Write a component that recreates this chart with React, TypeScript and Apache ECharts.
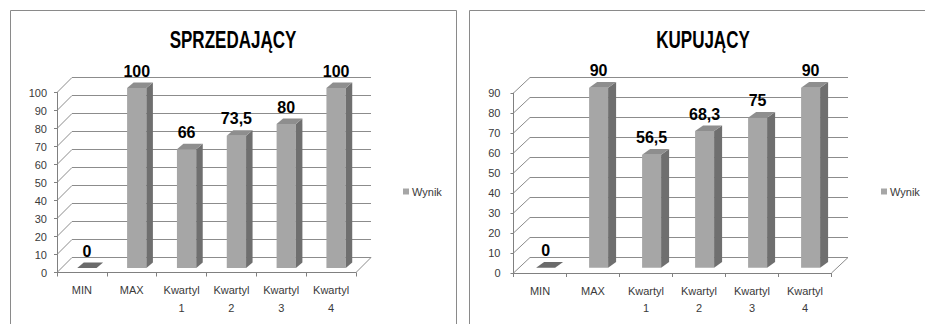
import React, { useEffect, useRef } from "react";
import * as echarts from "echarts";

// Category names (second line of the quartile labels on its own row)
const categories = ["MIN", "MAX", "Kwartyl\n1", "Kwartyl\n2", "Kwartyl\n3", "Kwartyl\n4"];

// Scores per category
const sellerValues = [0, 100, 66, 73.5, 80, 100];
const buyerValues = [0, 90, 56.5, 68.3, 75, 90];

// Value-axis ticks
const sellerTicks = [0, 10, 20, 30, 40, 50, 60, 70, 80, 90, 100];
const buyerTicks = [0, 10, 20, 30, 40, 50, 60, 70, 80, 90];

const sellerTitle = "SPRZEDAJĄCY";
const buyerTitle = "KUPUJĄCY";
const seriesName = "Wynik";

const font = "'Liberation Sans', Arial, sans-serif";
const gridColor = "#8c8c8c";
const axisColor = "#808080";
const textColor = "#3a3a3a";
const frontColor = "#a6a6a6";
const sideColor = "#6f6f6f";
const topColor = "#8e8e8e";
const flatColor = "#6b6b6b";

type Panel = {
  frontLeft: number;
  frontTop: number;
  width: number;
  height: number;
  depth: [number, number];
  barShift: [number, number];
  barDepth: [number, number];
  barWidth: number;
  yLabelMargin: number;
  legendLeft: number;
  titleX: number;
  frame: [number, number, number, number];
};

const sellerPanel: Panel = {
  frontLeft: 57,
  frontTop: 92.5,
  width: 299,
  height: 180,
  depth: [15, -15],
  barShift: [5, -4.5],
  barDepth: [6.5, -5.5],
  barWidth: 19.3,
  yLabelMargin: 10,
  legendLeft: 403,
  titleX: 233,
  frame: [10.5, 10.5, 446, 330],
};

const buyerPanel: Panel = {
  frontLeft: 513.5,
  frontTop: 93,
  width: 318,
  height: 180,
  depth: [16.5, -15.5],
  barShift: [5.6, -5.3],
  barDepth: [8, -5.6],
  barWidth: 19,
  yLabelMargin: 13,
  legendLeft: 881,
  titleX: 703,
  frame: [469.5, 10.5, 470, 330],
};

function formatValue(v: number): string {
  return String(v).replace(".", ",");
}

function buildPanel(k: number, p: Panel, values: number[], ticks: number[]) {
  const g = k * 3;
  const max = ticks[ticks.length - 1];

  const grid = [
    { left: p.frontLeft, top: p.frontTop, width: p.width, height: p.height },
    {
      left: p.frontLeft + p.barShift[0],
      top: p.frontTop + p.barShift[1],
      width: p.width,
      height: p.height,
    },
    {
      left: p.frontLeft + p.depth[0],
      top: p.frontTop + p.depth[1],
      width: p.width,
      height: p.height,
    },
  ];

  const xAxis = [
    {
      gridIndex: g,
      type: "category",
      data: categories,
      axisLine: { show: true, lineStyle: { color: axisColor } },
      axisTick: { show: true, length: 4, lineStyle: { color: axisColor } },
      axisLabel: {
        interval: 0,
        fontSize: 11,
        lineHeight: 17.6,
        margin: 9,
        color: textColor,
        fontFamily: font,
      },
      splitLine: { show: false },
    },
    { gridIndex: g + 1, type: "category", data: categories, show: false },
    { gridIndex: g + 2, type: "category", data: categories, show: false },
  ];

  const yAxis = [
    {
      gridIndex: g,
      type: "value",
      min: 0,
      max,
      interval: 10,
      axisLine: { show: true, lineStyle: { color: axisColor } },
      axisTick: { show: true, length: 3, lineStyle: { color: axisColor } },
      axisLabel: {
        fontSize: 11,
        margin: p.yLabelMargin,
        color: textColor,
        fontFamily: font,
      },
      splitLine: { show: false },
    },
    { gridIndex: g + 1, type: "value", min: 0, max, show: false },
    {
      gridIndex: g + 2,
      type: "value",
      min: 0,
      max,
      interval: 10,
      axisLine: { show: false },
      axisTick: { show: false },
      axisLabel: { show: false },
      splitLine: { show: true, lineStyle: { color: gridColor, width: 1 } },
    },
  ];

  const series: any[] = [
    // Side-wall gridlines and the floor's right edge
    {
      type: "custom",
      name: "walls",
      xAxisIndex: g,
      yAxisIndex: g,
      silent: true,
      z: 1,
      data: ticks.map((t) => [0, t]),
      renderItem: (params: any, api: any) => {
        const cs = params.coordSys;
        const v = api.value(1);
        const y = api.coord([0, v])[1];
        const [dx, dy] = p.depth;
        const children: any[] = [
          {
            type: "line",
            shape: { x1: cs.x, y1: y, x2: cs.x + dx, y2: y + dy },
            style: { stroke: gridColor, lineWidth: 1 },
          },
        ];
        if (v === 0) {
          children.push({
            type: "line",
            shape: {
              x1: cs.x + cs.width,
              y1: y,
              x2: cs.x + cs.width + dx,
              y2: y + dy,
            },
            style: { stroke: gridColor, lineWidth: 1 },
          });
        }
        return { type: "group", children };
      },
    },
    // Front faces of the columns with their value labels
    {
      type: "bar",
      name: seriesName,
      xAxisIndex: g + 1,
      yAxisIndex: g + 1,
      data: values,
      barWidth: p.barWidth,
      z: 3,
      itemStyle: { color: frontColor },
      emphasis: { disabled: true },
      label: {
        show: true,
        position: "top",
        distance: 9,
        formatter: (q: any) => formatValue(q.value),
        fontSize: 16,
        fontWeight: "bold",
        color: "#000",
        fontFamily: font,
      },
    },
    // Right-side and top faces giving the columns depth
    {
      type: "custom",
      name: "column-depth",
      xAxisIndex: g + 1,
      yAxisIndex: g + 1,
      silent: true,
      z: 4,
      data: values.map((v, i) => [i, v]),
      renderItem: (params: any, api: any) => {
        const i = api.value(0);
        const v = api.value(1);
        const top = api.coord([i, v]);
        const base = api.coord([i, 0]);
        const hw = p.barWidth / 2;
        const [dx, dy] = p.barDepth;
        const xl = top[0] - hw;
        const xr = top[0] + hw;
        const children: any[] = [];
        if (v > 0) {
          children.push({
            type: "polygon",
            shape: {
              points: [
                [xr, top[1]],
                [xr + dx, top[1] + dy],
                [xr + dx, base[1] + dy],
                [xr, base[1]],
              ],
            },
            style: { fill: sideColor },
          });
        }
        children.push({
          type: "polygon",
          shape: {
            points: [
              [xl, top[1]],
              [xl + dx, top[1] + dy],
              [xr + dx, top[1] + dy],
              [xr, top[1]],
            ],
          },
          style: { fill: v > 0 ? topColor : flatColor },
        });
        return { type: "group", children };
      },
    },
  ];

  const legend = {
    data: [seriesName],
    left: p.legendLeft,
    top: 186,
    padding: 0,
    icon: "rect",
    itemWidth: 6,
    itemHeight: 6,
    selectedMode: false,
    textStyle: { fontSize: 11, color: textColor, fontFamily: font, padding: [0, 0, 0, -2] },
  };

  const graphic = [
    {
      type: "rect",
      shape: { x: p.frame[0], y: p.frame[1], width: p.frame[2], height: p.frame[3] },
      style: { fill: "none", stroke: "#8a8a8a", lineWidth: 1 },
      silent: true,
    },
  ];

  return { grid, xAxis, yAxis, series, legend, graphic };
}

function titleText(x: number, text: string) {
  return {
    type: "text",
    x,
    y: 40,
    scaleX: 0.74,
    silent: true,
    style: {
      text,
      fontSize: 23,
      fontWeight: "bold",
      fontFamily: font,
      align: "center",
      verticalAlign: "middle",
      fill: "#000",
    },
  };
}

export default function App() {
  const ref = useRef<HTMLDivElement>(null);

  useEffect(() => {
    if (!ref.current) return;
    const chart = echarts.init(ref.current, null, { renderer: "svg" });

    const a = buildPanel(0, sellerPanel, sellerValues, sellerTicks);
    const b = buildPanel(1, buyerPanel, buyerValues, buyerTicks);

    chart.setOption({
      animation: false,
      backgroundColor: "#ffffff",
      grid: [...a.grid, ...b.grid],
      xAxis: [...a.xAxis, ...b.xAxis],
      yAxis: [...a.yAxis, ...b.yAxis],
      series: [...a.series, ...b.series],
      legend: [a.legend, b.legend],
      graphic: [
        ...a.graphic,
        ...b.graphic,
        titleText(sellerPanel.titleX, sellerTitle),
        titleText(buyerPanel.titleX, buyerTitle),
      ],
    });

    return () => chart.dispose();
  }, []);

  return (
    <div
      ref={ref}
      style={{ position: "absolute", left: 0, top: 0, width: 925, height: 324 }}
    />
  );
}
